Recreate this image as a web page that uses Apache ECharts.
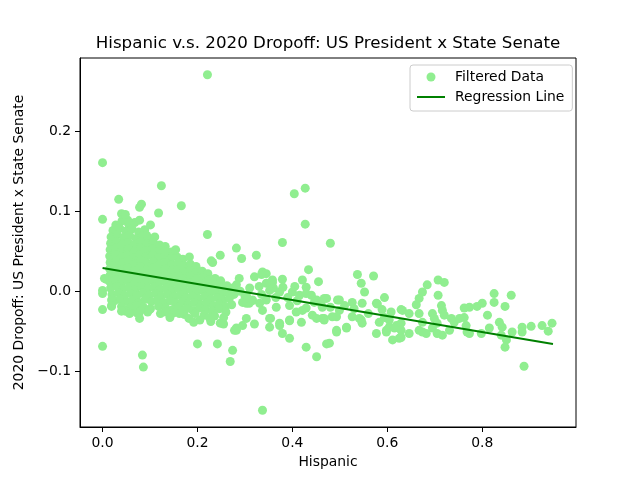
<!DOCTYPE html>
<html>
<head>
<meta charset="utf-8">
<title>Hispanic v.s. 2020 Dropoff</title>
<script src="https://cdn.jsdelivr.net/npm/echarts@6.0.0/dist/echarts.min.js"></script>
<style>
	html, body { margin: 0; padding: 0; background: #fff; }
	#mychart { width: 640px; height: 480px; }
</style>
</head>
<body>
<div id="mychart"></div>
<script>
// dense cloud of low-hispanic precincts
var clusterPts = [
	[0.028,0.083],[0.041,0.088],[0.055,0.084],[0.068,0.086],[0.053,0.089],
	[0.022,0.076],[0.036,0.079],[0.049,0.075],[0.062,0.078],[0.076,0.074],[0.089,0.077],
	[0.018,0.068],[0.031,0.071],[0.044,0.067],[0.057,0.070],[0.071,0.066],[0.084,0.069],[0.097,0.065],[0.110,0.068],[0.093,0.070],
	[0.017,0.060],[0.029,0.062],[0.042,0.059],[0.055,0.061],[0.068,0.058],[0.081,0.062],[0.094,0.059],[0.107,0.061],[0.120,0.058],[0.132,0.056],
	[0.016,0.052],[0.028,0.054],[0.041,0.051],[0.054,0.053],[0.067,0.050],[0.080,0.054],[0.093,0.051],[0.106,0.053],[0.119,0.050],[0.132,0.052],[0.145,0.049],
	[0.015,0.044],[0.027,0.046],[0.040,0.043],[0.053,0.045],[0.066,0.042],[0.079,0.046],[0.092,0.043],[0.105,0.045],[0.118,0.042],[0.131,0.044],[0.144,0.041],[0.157,0.043],[0.169,0.040],
	[0.016,0.036],[0.029,0.038],[0.042,0.035],[0.055,0.037],[0.068,0.034],[0.081,0.038],[0.094,0.035],[0.107,0.037],[0.120,0.034],[0.133,0.036],[0.146,0.033],[0.159,0.035],[0.172,0.032],[0.185,0.034],[0.197,0.031],
	[0.015,0.028],[0.028,0.030],[0.041,0.027],[0.054,0.029],[0.067,0.026],[0.080,0.030],[0.093,0.027],[0.106,0.029],[0.119,0.026],[0.132,0.028],[0.145,0.025],[0.158,0.027],[0.171,0.024],[0.184,0.026],[0.197,0.023],[0.210,0.025],[0.222,0.022],
	[0.016,0.020],[0.029,0.022],[0.042,0.019],[0.055,0.021],[0.068,0.018],[0.081,0.022],[0.094,0.019],[0.107,0.021],[0.120,0.018],[0.133,0.020],[0.146,0.017],[0.159,0.019],[0.172,0.016],[0.185,0.018],[0.198,0.015],[0.211,0.017],[0.224,0.014],[0.237,0.016],[0.249,0.013],
	[0.015,0.012],[0.028,0.014],[0.041,0.011],[0.054,0.013],[0.067,0.010],[0.080,0.014],[0.093,0.011],[0.106,0.013],[0.119,0.010],[0.132,0.012],[0.145,0.009],[0.158,0.011],[0.171,0.008],[0.184,0.010],[0.197,0.007],[0.210,0.009],[0.223,0.006],[0.236,0.008],[0.249,0.005],[0.262,0.007],[0.274,0.004],
	[0.017,0.004],[0.030,0.006],[0.043,0.003],[0.056,0.005],[0.069,0.002],[0.082,0.006],[0.095,0.003],[0.108,0.005],[0.121,0.002],[0.134,0.004],[0.147,0.001],[0.160,0.003],[0.173,0.000],[0.186,0.002],[0.199,-0.001],[0.212,0.001],[0.225,-0.002],[0.238,0.000],[0.251,-0.003],[0.264,-0.001],[0.277,-0.004],
	[0.020,-0.004],[0.033,-0.002],[0.046,-0.005],[0.059,-0.003],[0.072,-0.006],[0.085,-0.002],[0.098,-0.005],[0.111,-0.003],[0.124,-0.006],[0.137,-0.004],[0.150,-0.007],[0.163,-0.005],[0.176,-0.008],[0.189,-0.006],[0.202,-0.009],[0.215,-0.007],[0.228,-0.010],[0.241,-0.008],[0.254,-0.011],[0.267,-0.009],
	[0.025,-0.012],[0.038,-0.010],[0.051,-0.013],[0.064,-0.011],[0.077,-0.014],[0.090,-0.010],[0.103,-0.013],[0.116,-0.011],[0.129,-0.014],[0.142,-0.012],[0.155,-0.015],[0.168,-0.013],[0.181,-0.016],[0.194,-0.014],[0.207,-0.017],[0.220,-0.015],[0.233,-0.018],[0.246,-0.016],[0.259,-0.019],[0.272,-0.017],
	[0.040,-0.019],[0.058,-0.021],[0.071,-0.018],[0.086,-0.020],[0.101,-0.022],[0.118,-0.019],[0.133,-0.021],[0.148,-0.023],[0.161,-0.020],[0.176,-0.022],[0.190,-0.024],[0.204,-0.021],[0.218,-0.023],[0.232,-0.025],[0.246,-0.022],[0.260,-0.026],
	[0.048,-0.025],[0.072,-0.027],[0.095,-0.026],[0.122,-0.028],[0.150,-0.027],[0.172,-0.029],[0.195,-0.028],[0.214,-0.030],[0.236,-0.031],[0.255,-0.033],
	[0.142,-0.033],[0.182,-0.034],[0.205,-0.036],[0.228,-0.038],[0.248,-0.040]
];

// the band along the line, x from about 0.28 up to 0.95
var bandPts = [
	[0.293,0.041],[0.324,0.045],[0.434,0.027],[0.537,0.021],[0.571,0.019],[0.455,0.012],[0.545,0.010],[0.552,-0.001],[0.594,-0.008],
	[0.337,0.024],[0.345,0.022],[0.320,0.018],[0.335,0.021],[0.358,0.014],[0.358,0.011],[0.379,0.015],[0.421,0.014],[0.288,0.016],[0.282,0.008],
	[0.290,0.000],[0.300,-0.006],[0.310,0.004],[0.315,-0.012],[0.330,0.006],[0.335,-0.004],[0.345,0.010],[0.360,0.004],[0.365,-0.008],[0.380,0.005],[0.390,-0.008],[0.405,0.006],[0.410,-0.012],
	[0.352,0.001],[0.373,-0.001],[0.400,-0.001],[0.429,0.005],[0.415,-0.005],[0.429,-0.003],[0.451,-0.011],[0.472,-0.009],[0.467,-0.009],[0.446,-0.014],[0.440,-0.005],
	[0.499,-0.011],[0.526,-0.014],[0.547,-0.015],[0.577,-0.015],[0.495,-0.011],[0.460,-0.015],[0.480,-0.020],[0.510,-0.018],[0.530,-0.022],[0.560,-0.028],
	[0.309,-0.015],[0.303,-0.015],[0.316,-0.011],[0.331,-0.015],[0.345,-0.011],[0.295,-0.014],[0.303,-0.005],
	[0.337,-0.024],[0.366,-0.020],[0.394,-0.018],[0.421,-0.024],[0.429,-0.021],[0.408,-0.026],[0.442,-0.030],[0.463,-0.034],[0.493,-0.032],[0.463,-0.020],[0.467,-0.034],[0.484,-0.032],[0.499,-0.024],
	[0.352,-0.034],[0.354,-0.034],[0.394,-0.037],[0.394,-0.036],[0.419,-0.039],[0.451,-0.034],[0.467,-0.036],[0.352,-0.045],[0.373,-0.040],[0.373,-0.043],[0.320,-0.041],[0.303,-0.034],
	[0.282,-0.046],[0.295,-0.043],[0.282,-0.049],[0.379,-0.053],[0.394,-0.059],[0.493,-0.049],[0.493,-0.051],[0.514,-0.046],[0.514,-0.045],[0.478,-0.065],
	[0.541,-0.034],[0.545,-0.036],[0.547,-0.040],[0.526,-0.032],[0.577,-0.053],[0.598,-0.049],[0.598,-0.051],[0.604,-0.045],[0.583,-0.039],[0.594,-0.033],[0.604,-0.036],[0.619,-0.043],[0.629,-0.040],
	[0.579,-0.016],[0.589,-0.023],[0.608,-0.026],[0.629,-0.023],[0.632,-0.024],[0.646,-0.028],[0.661,-0.017],[0.667,-0.009],[0.674,-0.001],[0.684,0.008],
	[0.707,0.014],[0.720,0.011],[0.707,-0.005],[0.714,-0.018],[0.716,-0.024],[0.720,-0.030],[0.695,-0.028],[0.699,-0.034],[0.705,-0.040],[0.667,-0.028],[0.674,-0.039],
	[0.629,-0.049],[0.646,-0.053],[0.625,-0.059],[0.629,-0.058],[0.611,-0.061],[0.615,-0.046],[0.667,-0.049],[0.674,-0.051],[0.682,-0.053],
	[0.695,-0.046],[0.705,-0.053],[0.716,-0.055],[0.731,-0.049],[0.735,-0.034],[0.741,-0.039],[0.752,-0.034],[0.762,-0.033],[0.762,-0.021],[0.773,-0.020],[0.789,-0.019],[0.800,-0.015],
	[0.766,-0.043],[0.768,-0.051],[0.773,-0.053],[0.798,-0.053],[0.811,-0.030],[0.815,-0.046],[0.825,-0.003],[0.825,-0.014],[0.848,-0.019],[0.861,-0.005],
	[0.836,-0.039],[0.842,-0.045],[0.840,-0.055],[0.851,-0.061],[0.848,-0.070],[0.863,-0.051],[0.884,-0.045],[0.884,-0.051],[0.903,-0.044],[0.926,-0.043],[0.947,-0.040],[0.939,-0.050]
];

// scattered points and outliers away from the cloud
var edgePts = [
	[0.221,0.271],[0.000,0.161],[0.000,0.090],[0.034,0.115],[0.124,0.132],[0.166,0.107],[0.221,0.071],
	[0.404,0.122],[0.427,0.129],[0.427,0.084],[0.379,0.061],[0.480,0.060],
	[0.040,0.097],[0.048,0.096],[0.078,0.105],[0.082,0.109],[0.118,0.098],[0.078,0.089],[0.101,0.083],
	[0.154,0.052],[0.282,0.054],[0.248,0.045],[0.183,0.043],[0.229,0.038],[0.131,0.050],[0.232,0.036],
	[0.000,-0.069],[0.084,-0.080],[0.086,-0.095],[0.200,-0.066],[0.242,-0.066],[0.274,-0.074],[0.269,-0.088],
	[0.337,-0.149],[0.429,-0.070],[0.451,-0.082],[0.472,-0.066],[0.888,-0.094],
	[0.000,0.001],[0.000,-0.003],[0.000,-0.023],[0.019,-0.011],[0.019,-0.019],[0.008,0.015],[0.004,0.016],
	[0.019,-0.018],[0.040,-0.025],[0.057,-0.028],[0.078,-0.026],[0.078,-0.034],[0.099,-0.023],[0.133,-0.026],
	[0.162,-0.028],[0.192,-0.039],[0.225,-0.033],[0.255,-0.041],[0.278,-0.049]
];

// regression line end points
var lineX = [0.0, 0.949];
var lineY = [0.029, -0.066];

var xTicks = [0.0, 0.2, 0.4, 0.6, 0.8];
var yTicks = [-0.1, 0.0, 0.1, 0.2];

var dropoffChart = {
	font : "DejaVu Sans",

	initial : function initial() {
		var myChart = echarts.init(document.getElementById('mychart'), null, { renderer : 'canvas' });
		myChart.setOption(this.buildOption());
	},

	tickLabel : function tickLabel(v) {
		// matplotlib prints a real minus sign
		if (v < 0)
			return "\u2212" + Math.abs(v).toFixed(1);
		return v.toFixed(1);
	},

	buildOption : function buildOption() {
		var points = clusterPts.concat(bandPts).concat(edgePts);
		var linePts = [];
		for (var i = 0; i < lineX.length; i++) {
			linePts.push([lineX[i], lineY[i]]);
		}

		var option = {
			animation : false,
			backgroundColor : '#fff',
			textStyle : { fontFamily : this.font },
			title : {
				text : 'Hispanic v.s. 2020 Dropoff: US President x State Senate',
				left : 328,
				top : 35,
				textAlign : 'center',
				padding : 0,
				textStyle : {
					fontFamily : this.font,
					fontSize : 16.7,
					fontWeight : 'normal',
					color : '#000'
				}
			},
			legend : {
				orient : 'vertical',
				left : 410,
				top : 65,
				padding : [5, 8, 7, 6],
				itemGap : 6,
				itemWidth : 28,
				itemHeight : 9,
				backgroundColor : 'rgba(255,255,255,0.8)',
				borderColor : '#cccccc',
				borderWidth : 1,
				borderRadius : 3,
				textStyle : {
					fontFamily : this.font,
					fontSize : 13.9,
					lineHeight : 14,
					color : '#000',
					padding : [0, 0, 0, 5]
				},
				data : [
					{ name : 'Filtered Data', icon : 'circle', itemStyle : { color : '#90EE90' } },
					// no marker on the line entry, just the stroke
					{ name : 'Regression Line', itemStyle : { opacity : 0 } }
				]
			},
			grid : {
				left : 80,
				right : 64,
				top : 58,
				bottom : 53,
				show : true,
				borderColor : '#000',
				borderWidth : 1,
				backgroundColor : '#fff'
			},
			xAxis : {
				type : 'value',
				min : -0.0475,
				max : 0.9975,
				name : 'Hispanic',
				nameLocation : 'middle',
				nameGap : 28,
				nameTextStyle : { fontFamily : this.font, fontSize : 13.9, color : '#000' },
				axisLine : { show : true, onZero : false, lineStyle : { color : '#000', width : 1 } },
				axisTick : { show : true, inside : false, length : 5, customValues : xTicks, lineStyle : { color : '#000' } },
				axisLabel : {
					customValues : xTicks,
					formatter : dropoffChart.tickLabel,
					margin : 9,
					fontFamily : this.font,
					fontSize : 13.9,
					color : '#000'
				},
				splitLine : { show : false }
			},
			yAxis : {
				type : 'value',
				min : -0.17,
				max : 0.292,
				name : '2020 Dropoff: US President x State Senate',
				nameLocation : 'middle',
				nameGap : 47,
				nameTextStyle : { fontFamily : this.font, fontSize : 13.9, color : '#000' },
				axisLine : { show : true, onZero : false, lineStyle : { color : '#000', width : 1 } },
				axisTick : { show : true, inside : false, length : 5, customValues : yTicks, lineStyle : { color : '#000' } },
				axisLabel : {
					customValues : yTicks,
					formatter : dropoffChart.tickLabel,
					margin : 9,
					fontFamily : this.font,
					fontSize : 13.9,
					color : '#000'
				},
				splitLine : { show : false }
			},
			series : [
				{
					name : 'Filtered Data',
					type : 'scatter',
					symbol : 'circle',
					symbolSize : 9,
					itemStyle : { color : '#90EE90', opacity : 1 },
					emphasis : { disabled : true },
					data : points
				},
				{
					name : 'Regression Line',
					type : 'line',
					showSymbol : false,
					symbol : 'none',
					lineStyle : { color : '#008000', width : 2 },
					itemStyle : { color : '#008000' },
					z : 3,
					data : linePts
				}
			]
		};
		return option;
	}
};

dropoffChart.initial();
</script>
</body>
</html>
